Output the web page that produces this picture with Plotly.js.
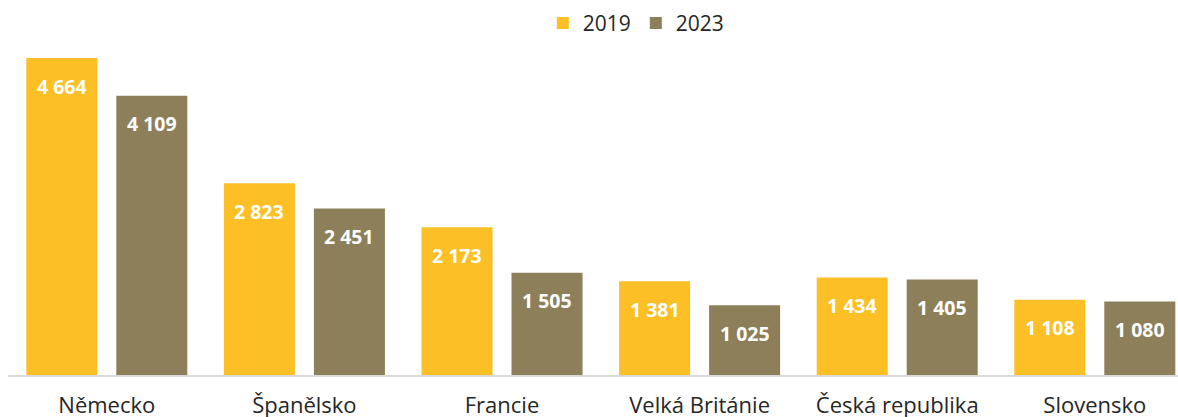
<!DOCTYPE html>
<html>
<head>
<meta charset="utf-8">
<script src="https://cdn.plot.ly/plotly-3.0.1.min.js"></script>
<style>
  html, body { margin: 0; padding: 0; background: #fff; }
  #chart { width: 1178px; height: 417px; }
</style>
</head>
<body>
<div id="chart"></div>
<script>
// *********************************************************************************************
// DATA

const COUNTRIES = ["Německo", "Španělsko", "Francie", "Velká Británie", "Česká republika", "Slovensko"];
const Y_2019 = [4664, 2823, 2173, 1381, 1434, 1108];
const Y_2023 = [4109, 2451, 1505, 1025, 1405, 1080];
const SERIES_NAMES = ["2019", "2023"];

const COLOR_2019 = '#FCBF26';
const COLOR_2023 = '#8C7F5A';

// "4664" -> "4 664"
const fmt = (v) => v.toString().replace(/\B(?=(\d{3})+(?!\d))/g, ' ');


// *********************************************************************************************
// TRACES

const trace1 = {
    name: SERIES_NAMES[0],
    type: 'bar',
    x: COUNTRIES,
    y: Y_2019,
    marker: { color: COLOR_2019 },
    hoverinfo: 'skip'
};

const trace2 = {
    name: SERIES_NAMES[1],
    type: 'bar',
    x: COUNTRIES,
    y: Y_2023,
    marker: { color: COLOR_2023 },
    hoverinfo: 'skip'
};

// value labels sit inside the bars, a bit below the top
const labelFont = { family: 'Open Sans', size: 19.5, color: '#ffffff', weight: 'bold' };
const annotations = [];
COUNTRIES.forEach((c, i) => {
    annotations.push({ x: c, y: Y_2019[i], xref: 'x', yref: 'y', text: '<b>' + fmt(Y_2019[i]) + '</b>',
        showarrow: false, xshift: -45, yshift: -28, yanchor: 'middle', font: labelFont });
    annotations.push({ x: c, y: Y_2023[i], xref: 'x', yref: 'y', text: '<b>' + fmt(Y_2023[i]) + '</b>',
        showarrow: false, xshift: 45, yshift: -28, yanchor: 'middle', font: labelFont });
});


// *********************************************************************************************
// LAYOUT

const layout = {
    width: 1178,
    height: 417,
    margin: { t: 40, r: 0, b: 42, l: 8 },
    paper_bgcolor: '#ffffff',
    plot_bgcolor: '#ffffff',
    font: { family: 'Open Sans', color: '#262626' },
    barmode: 'group',
    bargap: 0.089,
    bargroupgap: 0.211,
    showlegend: true,
    legend: {
        orientation: 'h',
        x: 0.537,
        xanchor: 'center',
        y: 1.111,
        yanchor: 'top',
        font: { size: 21, color: '#262626' }
    },
    xaxis: {
        type: 'category',
        range: [-0.5, 5.421],
        showline: true,
        linecolor: '#D9D9D9',
        linewidth: 1.5,
        ticks: '',
        showgrid: false,
        tickfont: { size: 22, color: '#262626' },
        ticklabelstandoff: 10,
        fixedrange: true
    },
    yaxis: {
        range: [0, 4929],
        visible: false,
        showgrid: false,
        zeroline: false,
        fixedrange: true
    },
    annotations: annotations
};

const config = { displaylogo: false, displayModeBar: false, staticPlot: true };

Plotly.newPlot('chart', [trace1, trace2], layout, config);
</script>
</body>
</html>
